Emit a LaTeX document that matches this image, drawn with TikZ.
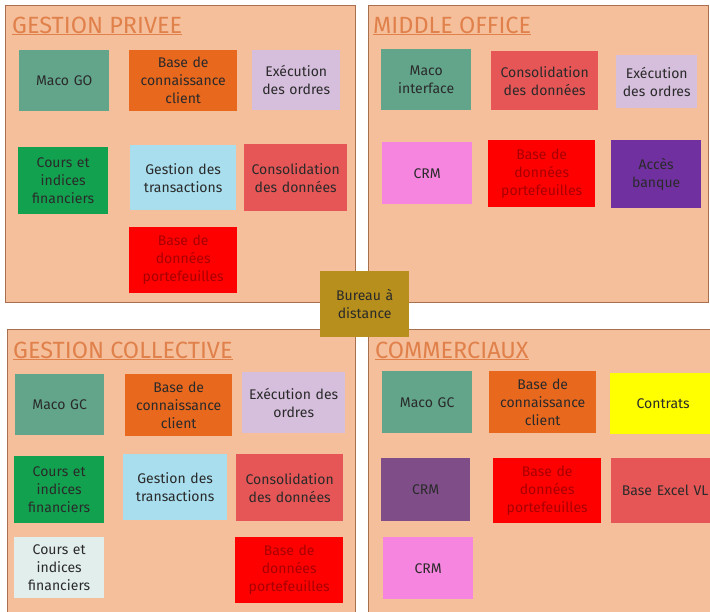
\documentclass[tikz,border=0pt]{standalone}
\usepackage{fontspec}
\setmainfont{Fira Sans}
\definecolor{panelfill}{HTML}{F6BF9C}
\definecolor{panelline}{HTML}{A8704E}
\definecolor{titlecol}{HTML}{E0804A}
\definecolor{teal}{HTML}{62A58B}
\definecolor{orng}{HTML}{E8681E}
\definecolor{lav}{HTML}{D6BEDD}
\definecolor{grn}{HTML}{12A24F}
\definecolor{lblue}{HTML}{A8DEEE}
\definecolor{coral}{HTML}{E65656}
\definecolor{redb}{HTML}{FE0000}
\definecolor{pink}{HTML}{F585DF}
\definecolor{purp}{HTML}{7030A0}
\definecolor{mauve}{HTML}{7F4E89}
\definecolor{yel}{HTML}{FFFF00}
\definecolor{pale}{HTML}{E2EEEC}
\definecolor{gold}{HTML}{B78F1C}
\definecolor{txt}{HTML}{2A2A2A}
\definecolor{redtxt}{HTML}{A80000}
\tikzset{
  panel/.style={draw=panelline, line width=0.9pt, fill=panelfill, anchor=north west, inner sep=0pt},
  ptitle/.style={anchor=base west, inner sep=0pt, text=titlecol, font=\fontsize{23.5}{26}\selectfont},
  box/.style={anchor=north west, inner sep=0pt, align=center, text=txt,
    font=\fontsize{14}{18}\selectfont},
}
% corner-based box: #1 name, #2 x1, #3 y1, #4 x2, #5 y2, #6 style, #7 text
\newcommand{\mybox}[7]{%
  \pgfmathsetmacro{\bw}{#4-#2}\pgfmathsetmacro{\bh}{#5-#3}%
  \node[box, minimum width=\bw pt, minimum height=\bh pt, text width=\bw pt-4pt, #6] (#1) at (#2,#3) {#7};%
}
\begin{document}
\begin{tikzpicture}[x=1pt,y=-1pt]
\clip (0,0) rectangle (710,611);
\fill[white] (0,0) rectangle (710,611);
% panels
\node[panel, minimum width=350pt, minimum height=297pt] (gp) at (5,5) {};
\node[panel, minimum width=340pt, minimum height=297pt] (mo) at (368,5) {};
\node[panel, minimum width=348pt, minimum height=311pt] (gc) at (7,329) {};
\node[panel, minimum width=352pt, minimum height=311pt] (com) at (368,329) {};
% titles
\node[ptitle] (tgp) at (12,33) {\underline{GESTION PRIVEE}};
\node[ptitle] (tmo) at (373,33) {\underline{MIDDLE OFFICE}};
\node[ptitle] (tgc) at (13,358) {\underline{GESTION COLLECTIVE}};
\node[ptitle] (tcom) at (375,358) {\underline{COMMERCIAUX}};
% GESTION PRIVEE
\mybox{gpa}{19}{50}{109}{111}{fill=teal}{Maco GO}
\mybox{gpb}{129}{50}{237}{111}{fill=orng}{Base de\\connaissance\\client}
\mybox{gpc}{252}{50}{340}{110}{fill=lav}{Exécution\\des ordres}
\mybox{gpd}{18}{147}{108}{214}{fill=grn}{Cours et\\indices\\financiers}
\mybox{gpe}{130}{145}{236}{210}{fill=lblue}{Gestion des\\transactions}
\mybox{gpf}{244}{144}{347}{211}{fill=coral}{Consolidation\\des données}
\mybox{gpg}{129}{227}{237}{293}{fill=redb, text=redtxt}{Base de\\données\\portefeuilles}
% MIDDLE OFFICE
\mybox{moa}{381}{49}{471}{110}{fill=teal}{Maco\\interface}
\mybox{mob}{491}{51}{598}{110}{fill=coral}{Consolidation\\des données}
\mybox{moc}{616}{55}{697}{108}{fill=lav}{Exécution\\des ordres}
\mybox{mod}{382}{142}{472}{204}{fill=pink}{CRM}
\mybox{moe}{488}{140}{595}{207}{fill=redb, text=redtxt}{Base de\\données\\portefeuilles}
\mybox{mof}{611}{140}{701}{208}{fill=purp}{Accès\\banque}
% GESTION COLLECTIVE
\mybox{gca}{15}{374}{104}{435}{fill=teal}{Maco GC}
\mybox{gcb}{125}{374}{232}{436}{fill=orng}{Base de\\connaissance\\client}
\mybox{gcc}{242}{372}{345}{433}{fill=lav}{Exécution des\\ordres}
\mybox{gcd}{14}{456}{104}{523}{fill=grn}{Cours et\\indices\\financiers}
\mybox{gce}{123}{454}{227}{520}{fill=lblue}{Gestion des\\transactions}
\mybox{gcf}{236}{454}{343}{521}{fill=coral}{Consolidation\\des données}
\mybox{gcg}{14}{537}{104}{598}{fill=pale}{Cours et\\indices\\financiers}
\mybox{gch}{235}{537}{343}{603}{fill=redb, text=redtxt}{Base de\\données\\portefeuilles}
% COMMERCIAUX
\mybox{coa}{382}{371}{472}{433}{fill=teal}{Maco GC}
\mybox{cob}{489}{371}{596}{433}{fill=orng}{Base de\\connaissance\\client}
\mybox{coc}{610}{373}{716}{434}{fill=yel}{Contrats}
\mybox{cod}{381}{458}{470}{521}{fill=mauve}{CRM}
\mybox{coe}{493}{458}{601}{523}{fill=redb, text=redtxt}{Base de\\données\\portefeuilles}
\mybox{cof}{611}{458}{719}{523}{fill=coral}{Base Excel VL}
\mybox{cog}{383}{537}{473}{599}{fill=pink}{CRM}
% Bureau a distance
\mybox{bur}{320}{271}{409}{337}{fill=gold}{Bureau à\\distance}
\end{tikzpicture}
\end{document}
